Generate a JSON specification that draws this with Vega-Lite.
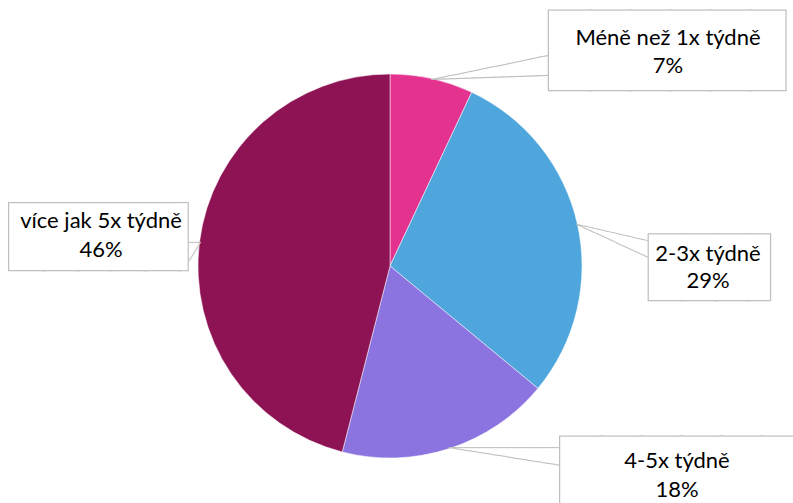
{
  "$schema": "https://vega.github.io/schema/vega-lite/v6.json",
  "width": 780,
  "height": 474,
  "padding": {"left": 0, "top": 29, "right": 13, "bottom": 0},
  "autosize": {"type": "none"},
  "background": "white",
  "view": {"stroke": null},
  "data": {
    "values": [
      {"cat": "Méně než 1x týdně", "share": 0.07, "ord": 1},
      {"cat": "2-3x týdně", "share": 0.29, "ord": 2},
      {"cat": "4-5x týdně", "share": 0.18, "ord": 3},
      {"cat": "více jak 5x týdně", "share": 0.46, "ord": 4}
    ]
  },
  "encoding": {
    "theta": {"field": "share", "type": "quantitative", "stack": true},
    "order": {"field": "ord", "type": "quantitative"},
    "detail": {"field": "cat", "type": "nominal"}
  },
  "layer": [
    {
      "mark": {"type": "arc", "outerRadius": 192, "stroke": "white", "strokeWidth": 0.5},
      "encoding": {
        "color": {
          "field": "cat", "type": "nominal", "legend": null,
          "scale": {
            "domain": ["Méně než 1x týdně", "2-3x týdně", "4-5x týdně", "více jak 5x týdně"],
            "range": ["#E4328F", "#4EA6DC", "#8B74E0", "#8E1355"]
          }
        }
      }
    },
    {"mark": {"type": "text", "font": "DejaVu Sans Mono", "fontSize": 12, "align": "left", "baseline": "middle", "radius": 191, "fill": "#bfbfbf", "angle": -11.66},
     "encoding": {"text": {"condition": {"test": "datum.cat === 'Méně než 1x týdně'", "value": "─────────────────"}, "value": ""}}},
    {"mark": {"type": "text", "font": "DejaVu Sans Mono", "fontSize": 12, "align": "left", "baseline": "middle", "radius": 191, "fill": "#bfbfbf", "angle": -2.09},
     "encoding": {"text": {"condition": {"test": "datum.cat === 'Méně než 1x týdně'", "value": "─────────────────"}, "value": ""}}},
    {"mark": {"type": "text", "font": "DejaVu Sans Mono", "fontSize": 12, "align": "left", "baseline": "middle", "radius": 191, "fill": "#bfbfbf", "angle": 13.0},
     "encoding": {"text": {"condition": {"test": "datum.cat === '2-3x týdně'", "value": "───────────"}, "value": ""}}},
    {"mark": {"type": "text", "font": "DejaVu Sans Mono", "fontSize": 12, "align": "left", "baseline": "middle", "radius": 191, "fill": "#bfbfbf", "angle": 24.8},
     "encoding": {"text": {"condition": {"test": "datum.cat === '2-3x týdně'", "value": "───────────"}, "value": ""}}},
    {"mark": {"type": "text", "font": "DejaVu Sans Mono", "fontSize": 12, "align": "left", "baseline": "middle", "radius": 191, "fill": "#bfbfbf", "angle": 0},
     "encoding": {"text": {"condition": {"test": "datum.cat === '4-5x týdně'", "value": "────────────────"}, "value": ""}}},
    {"mark": {"type": "text", "font": "DejaVu Sans Mono", "fontSize": 12, "align": "left", "baseline": "middle", "radius": 191, "fill": "#bfbfbf", "angle": 9.1},
     "encoding": {"text": {"condition": {"test": "datum.cat === '4-5x týdně'", "value": "─────────────────"}, "value": ""}}},
    {"mark": {"type": "text", "font": "DejaVu Sans Mono", "fontSize": 12, "align": "left", "baseline": "middle", "radius": 191, "fill": "#bfbfbf", "angle": 180},
     "encoding": {"text": {"condition": {"test": "datum.cat === 'více jak 5x týdně'", "value": "──"}, "value": ""}}},
    {"mark": {"type": "text", "font": "DejaVu Sans Mono", "fontSize": 12, "align": "left", "baseline": "middle", "radius": 191, "fill": "#bfbfbf", "angle": 121.4},
     "encoding": {"text": {"condition": {"test": "datum.cat === 'více jak 5x týdně'", "value": "───"}, "value": ""}}},

    {"mark": {"type": "text", "font": "DejaVu Sans Mono", "fontSize": 66.6, "align": "left", "baseline": "alphabetic", "radius": 192, "dx": 117.6, "dy": -5.3, "fill": "#bfbfbf", "stroke": "#bfbfbf", "strokeWidth": 2.5},
     "encoding": {"text": {"condition": {"test": "datum.cat === 'Méně než 1x týdně'", "value": "█████▉"}, "value": ""}}},
    {"mark": {"type": "text", "font": "DejaVu Sans Mono", "fontSize": 55.2, "align": "left", "baseline": "alphabetic", "radius": 192, "dx": 71.9, "dy": 61.6, "fill": "#bfbfbf", "stroke": "#bfbfbf", "strokeWidth": 2.5},
     "encoding": {"text": {"condition": {"test": "datum.cat === '2-3x týdně'", "value": "███▋"}, "value": ""}}},
    {"mark": {"type": "text", "font": "DejaVu Sans Mono", "fontSize": 66.6, "align": "left", "baseline": "alphabetic", "radius": 192, "dx": 111.4, "dy": 50.4, "fill": "#bfbfbf", "stroke": "#bfbfbf", "strokeWidth": 2.5},
     "encoding": {"text": {"condition": {"test": "datum.cat === '4-5x týdně'", "value": "██████"}, "value": ""}}},
    {"mark": {"type": "text", "font": "DejaVu Sans Mono", "fontSize": 56.3, "align": "left", "baseline": "alphabetic", "radius": 192, "dx": -189.5, "dy": 13.6, "fill": "#bfbfbf", "stroke": "#bfbfbf", "strokeWidth": 2.5},
     "encoding": {"text": {"condition": {"test": "datum.cat === 'více jak 5x týdně'", "value": "█████▎"}, "value": ""}}},

    {"mark": {"type": "text", "font": "DejaVu Sans Mono", "fontSize": 66.6, "align": "left", "baseline": "alphabetic", "radius": 192, "dx": 117.6, "dy": -5.3, "fill": "white"},
     "encoding": {"text": {"condition": {"test": "datum.cat === 'Méně než 1x týdně'", "value": "█████▉"}, "value": ""}}},
    {"mark": {"type": "text", "font": "DejaVu Sans Mono", "fontSize": 55.2, "align": "left", "baseline": "alphabetic", "radius": 192, "dx": 71.9, "dy": 61.6, "fill": "white"},
     "encoding": {"text": {"condition": {"test": "datum.cat === '2-3x týdně'", "value": "███▋"}, "value": ""}}},
    {"mark": {"type": "text", "font": "DejaVu Sans Mono", "fontSize": 66.6, "align": "left", "baseline": "alphabetic", "radius": 192, "dx": 111.4, "dy": 50.4, "fill": "white"},
     "encoding": {"text": {"condition": {"test": "datum.cat === '4-5x týdně'", "value": "██████"}, "value": ""}}},
    {"mark": {"type": "text", "font": "DejaVu Sans Mono", "fontSize": 56.3, "align": "left", "baseline": "alphabetic", "radius": 192, "dx": -189.5, "dy": 13.6, "fill": "white"},
     "encoding": {"text": {"condition": {"test": "datum.cat === 'více jak 5x týdně'", "value": "█████▎"}, "value": ""}}},

    {"mark": {"type": "text", "font": "Lato", "fontSize": 22, "align": "center", "baseline": "alphabetic", "radius": 192, "dx": 236.1, "dy": -33.6, "fill": "black"},
     "encoding": {"text": {"condition": {"test": "datum.cat === 'Méně než 1x týdně'", "field": "cat", "type": "nominal"}, "value": ""}}},
    {"mark": {"type": "text", "font": "Lato", "fontSize": 22, "align": "center", "baseline": "alphabetic", "radius": 192, "dx": 236.1, "dy": -5.6, "fill": "black"},
     "encoding": {"text": {"condition": {"test": "datum.cat === 'Méně než 1x týdně'", "field": "share", "type": "quantitative", "format": ".0%"}, "value": ""}}},
    {"mark": {"type": "text", "font": "Lato", "fontSize": 22, "align": "center", "baseline": "alphabetic", "radius": 192, "dx": 130.6, "dy": 36.9, "fill": "black"},
     "encoding": {"text": {"condition": {"test": "datum.cat === '2-3x týdně'", "field": "cat", "type": "nominal"}, "value": ""}}},
    {"mark": {"type": "text", "font": "Lato", "fontSize": 22, "align": "center", "baseline": "alphabetic", "radius": 192, "dx": 130.6, "dy": 63.9, "fill": "black"},
     "encoding": {"text": {"condition": {"test": "datum.cat === '2-3x týdně'", "field": "share", "type": "quantitative", "format": ".0%"}, "value": ""}}},
    {"mark": {"type": "text", "font": "Lato", "fontSize": 22, "align": "center", "baseline": "alphabetic", "radius": 192, "dx": 227.7, "dy": 19.4, "fill": "black"},
     "encoding": {"text": {"condition": {"test": "datum.cat === '4-5x týdně'", "field": "cat", "type": "nominal"}, "value": ""}}},
    {"mark": {"type": "text", "font": "Lato", "fontSize": 22, "align": "center", "baseline": "alphabetic", "radius": 192, "dx": 227.7, "dy": 48.4, "fill": "black"},
     "encoding": {"text": {"condition": {"test": "datum.cat === '4-5x týdně'", "field": "share", "type": "quantitative", "format": ".0%"}, "value": ""}}},
    {"mark": {"type": "text", "font": "Lato", "fontSize": 22, "align": "center", "baseline": "alphabetic", "radius": 192, "dx": -98.5, "dy": -13.9, "fill": "black"},
     "encoding": {"text": {"condition": {"test": "datum.cat === 'více jak 5x týdně'", "field": "cat", "type": "nominal"}, "value": ""}}},
    {"mark": {"type": "text", "font": "Lato", "fontSize": 22, "align": "center", "baseline": "alphabetic", "radius": 192, "dx": -98.5, "dy": 15.1, "fill": "black"},
     "encoding": {"text": {"condition": {"test": "datum.cat === 'více jak 5x týdně'", "field": "share", "type": "quantitative", "format": ".0%"}, "value": ""}}}
  ]
}
